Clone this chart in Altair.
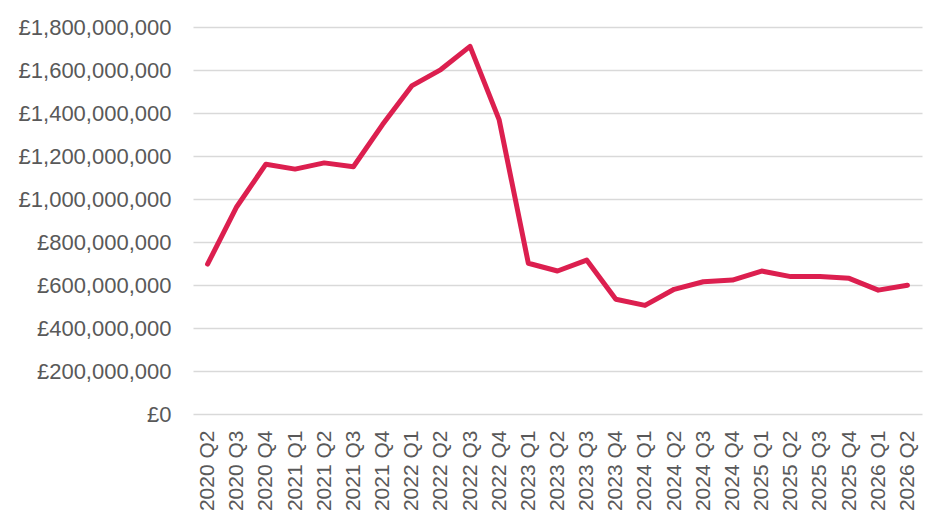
import altair as alt
import pandas as pd

quarters = [
    "2020 Q2", "2020 Q3", "2020 Q4",
    "2021 Q1", "2021 Q2", "2021 Q3", "2021 Q4",
    "2022 Q1", "2022 Q2", "2022 Q3", "2022 Q4",
    "2023 Q1", "2023 Q2", "2023 Q3", "2023 Q4",
    "2024 Q1", "2024 Q2", "2024 Q3", "2024 Q4",
    "2025 Q1", "2025 Q2", "2025 Q3", "2025 Q4",
    "2026 Q1", "2026 Q2",
]
values = [
    697e6, 964e6, 1162e6,
    1139e6, 1168e6, 1150e6, 1346e6,
    1526e6, 1602e6, 1710e6, 1368e6,
    701e6, 665e6, 716e6, 534e6,
    505e6, 580e6, 615e6, 623e6,
    665e6, 639e6, 639e6, 631e6,
    576e6, 599e6,
]
y_ticks = [i * 200_000_000 for i in range(10)]

df = pd.DataFrame({"quarter": quarters, "value": values})

font = "Liberation Sans"
grey = "#595959"

chart = (
    alt.Chart(df)
    .mark_line(color="#DC1F4F", strokeWidth=5, strokeJoin="round", strokeCap="round")
    .encode(
        x=alt.X(
            "quarter:N",
            sort=quarters,
            title=None,
            scale=alt.Scale(type="point", padding=0.5),
            axis=alt.Axis(
                labelAngle=-90,
                labelAlign="right",
                labelBaseline="middle",
                labelPadding=16,
                labelFont=font,
                labelFontSize=21,
                labelColor=grey,
                domain=False,
                ticks=False,
                grid=False,
            ),
        ),
        y=alt.Y(
            "value:Q",
            title=None,
            scale=alt.Scale(domain=[0, 1_800_000_000], nice=False),
            axis=alt.Axis(
                values=y_ticks,
                labelExpr='"£" + format(datum.value, ",")',
                labelPadding=22,
                labelFont=font,
                labelFontSize=22,
                labelColor=grey,
                domain=False,
                ticks=False,
                grid=True,
                gridColor="#d9d9d9",
                gridWidth=1.5,
            ),
        ),
    )
    .properties(
        width=729,
        height=387,
        padding={"left": 185, "top": 19, "right": 20, "bottom": 100},
        autosize=alt.AutoSizeParams(type="none"),
    )
    .configure_view(strokeWidth=0, strokeOpacity=0)
    .configure_axis(domain=False, ticks=False)
)

chart.save("out.html", embed_options={"renderer": "svg", "actions": False})
